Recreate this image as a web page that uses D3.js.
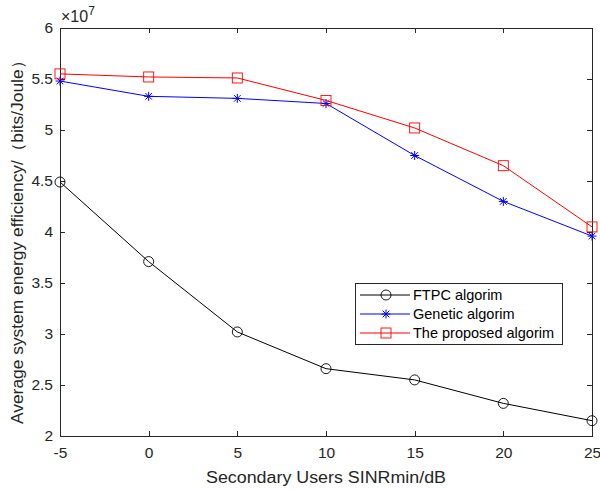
<!DOCTYPE html>
<html>
<head>
<meta charset="utf-8">
<style>
  body {
    background-color: white;
    margin: 0px;
  }
  text {
    font-family: "Liberation Sans", Arial, sans-serif;
    fill: #262626;
  }
</style>
<script src="https://cdn.jsdelivr.net/npm/d3@7"></script>
</head>
<body>
  <svg></svg>
</body>
<script>
const xValues = [-5, 0, 5, 10, 15, 20, 25];
const ftpc = [4.49, 3.71, 3.02, 2.66, 2.55, 2.32, 2.15];
const genetic = [5.48, 5.33, 5.31, 5.26, 4.75, 4.30, 3.96];
const proposed = [5.55, 5.52, 5.51, 5.29, 5.02, 4.65, 4.05];
const seriesNames = ["FTPC algorim", "Genetic algorim", "The proposed algorim"];
const xTicks = [-5, 0, 5, 10, 15, 20, 25];
const yTicks = [2, 2.5, 3, 3.5, 4, 4.5, 5, 5.5, 6];

const width = 600, height = 490;
const plotL = 60, plotR = 592, plotT = 28, plotB = 436;

const svg = d3.select("svg")
    .attr("width", width)
    .attr("height", height);

const x = d3.scaleLinear().domain([-5, 25]).range([plotL, plotR]);
const y = d3.scaleLinear().domain([2, 6]).range([plotB, plotT]);

const axisColor = "#262626";

// box
svg.append("rect")
    .attr("x", plotL).attr("y", plotT)
    .attr("width", plotR - plotL).attr("height", plotB - plotT)
    .style("fill", "none").style("stroke", axisColor).style("stroke-width", 1)
    .attr("shape-rendering", "crispEdges");

function styleAxis(g) {
  g.select(".domain").remove();
  g.selectAll(".tick line").style("stroke", axisColor).attr("shape-rendering", "crispEdges");
  g.selectAll(".tick text").style("font-size", "15.5px").style("fill", axisColor)
      .style("font-family", "'Liberation Sans', Arial, sans-serif");
}

const plain = function(d) {return String(d)};

svg.append("g")
    .attr("transform", "translate(0," + plotB + ")")
    .call(d3.axisBottom(x).tickValues(xTicks).tickSize(-5).tickPadding(11).tickFormat(plain))
    .call(styleAxis);
svg.append("g")
    .attr("transform", "translate(0," + plotT + ")")
    .call(d3.axisTop(x).tickValues(xTicks).tickSize(-5).tickFormat(""))
    .call(styleAxis);
svg.append("g")
    .attr("transform", "translate(" + plotL + ",0)")
    .call(d3.axisLeft(y).tickValues(yTicks).tickSize(-5).tickPadding(7).tickFormat(plain))
    .call(styleAxis);
svg.append("g")
    .attr("transform", "translate(" + plotR + ",0)")
    .call(d3.axisRight(y).tickValues(yTicks).tickSize(-5).tickFormat(""))
    .call(styleAxis);

// exponent
const expo = svg.append("text")
    .attr("x", plotL + 1).attr("y", plotT - 6)
    .style("font-size", "16px");
expo.append("tspan").text("\u00d710");
expo.append("tspan").attr("dy", -7).style("font-size", "12px").text("7");

// labels
svg.append("text")
    .attr("x", (plotL + plotR) / 2).attr("y", 483)
    .attr("text-anchor", "middle")
    .attr("textLength", 240)
    .attr("lengthAdjust", "spacingAndGlyphs")
    .style("font-size", "16px")
    .text("Secondary Users SINRmin/dB");

svg.append("text")
    .attr("transform", "translate(23,238) rotate(-90)")
    .attr("text-anchor", "middle")
    .attr("textLength", 372)
    .attr("lengthAdjust", "spacingAndGlyphs")
    .style("font-size", "16px")
    .text("Average system energy efficiency/\uff08bits/Joule\uff09");

const series = [
  {name: seriesNames[0], values: ftpc, color: "black", marker: "circle"},
  {name: seriesNames[1], values: genetic, color: "blue", marker: "star"},
  {name: seriesNames[2], values: proposed, color: "red", marker: "square"}
];

const line = d3.line()
    .x(function(d, i) {return x(xValues[i])})
    .y(function(d) {return y(d)});

function drawMarker(g, type, color) {
  if (type === "circle") {
    g.append("circle").attr("r", 5)
        .style("fill", "none").style("stroke", color).style("stroke-width", 0.9);
  } else if (type === "square") {
    g.append("rect").attr("x", -5).attr("y", -5).attr("width", 10).attr("height", 10)
        .style("fill", "none").style("stroke", color).style("stroke-width", 0.9);
  } else {
    const s = 4.5, t = 3.3;
    g.append("path")
        .attr("d", "M" + (-s) + ",0L" + s + ",0M0," + (-s) + "L0," + s +
          "M" + (-t) + "," + (-t) + "L" + t + "," + t + "M" + (-t) + "," + t + "L" + t + "," + (-t))
        .style("fill", "none").style("stroke", color).style("stroke-width", 1);
  }
}

series.forEach(function(s) {
  svg.append("path")
      .datum(s.values)
      .attr("d", line)
      .style("fill", "none")
      .style("stroke", s.color)
      .style("stroke-width", 1);
  s.values.forEach(function(v, i) {
    const g = svg.append("g").attr("transform", "translate(" + x(xValues[i]) + "," + y(v) + ")");
    drawMarker(g, s.marker, s.color);
  });
});

// legend
const lx = 355, ly = 283, lw = 207, lh = 61;
svg.append("rect")
    .attr("x", lx).attr("y", ly).attr("width", lw).attr("height", lh)
    .style("fill", "white").style("stroke", axisColor).style("stroke-width", 1)
    .attr("shape-rendering", "crispEdges");

series.forEach(function(s, i) {
  const cy = ly + 12 + i * 19;
  svg.append("line")
      .attr("x1", lx + 5).attr("x2", lx + 55).attr("y1", cy).attr("y2", cy)
      .style("stroke", s.color).style("stroke-width", 1);
  const g = svg.append("g").attr("transform", "translate(" + (lx + 31) + "," + cy + ")");
  drawMarker(g, s.marker, s.color);
  svg.append("text")
      .attr("x", lx + 58).attr("y", cy + 5)
      .style("font-size", "14.5px")
      .style("fill", "black")
      .text(s.name);
});
</script>
</html>
